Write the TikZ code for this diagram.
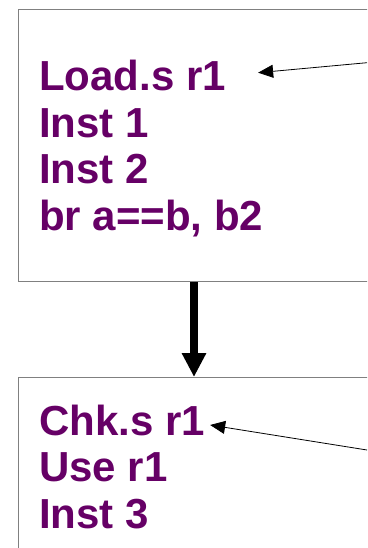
\documentclass[tikz,border=0pt]{standalone}
\usepackage{fontspec}
\setmainfont{Liberation Sans}
\usetikzlibrary{arrows.meta}
\definecolor{codepurple}{HTML}{660066}
\definecolor{boxgray}{HTML}{808080}
\begin{document}
\begin{tikzpicture}[x=1pt,y=-1pt]
    \tikzset{
        block/.style={draw=boxgray, line width=1pt, anchor=north west, inner sep=0pt, minimum width=400pt},
        code/.style={text=codepurple, font=\fontsize{42}{47}\selectfont\bfseries, anchor=base west, inner sep=0pt},
        pointer/.style={-{Triangle[length=15pt,width=13pt]}, line width=0.8pt},
        flow/.style={-{Triangle[length=24pt,width=23pt]}, line width=8pt}}
    \useasboundingbox (0,0) rectangle (367,548);
    \clip (0,0) rectangle (367,548);
    \node[block, minimum height=272pt] (top) at (18,9) {};
    \node[block, minimum height=250pt] (bot) at (18,377) {};
    \foreach \txt [count=\i] in {Load.s r1, Inst 1, Inst 2, {br a==b, b2}}
        \node[code] (ld\i) at (39,{90.7+46.5*(\i-1)}) {\txt};
    \foreach \txt [count=\i] in {Chk.s r1, Use r1, Inst 3}
        \node[code] (ck\i) at (39,{435+46.5*(\i-1)}) {\txt};
    % control flow between the blocks
    \coordinate (mid) at (194,0);
    \draw[flow] (top.south -| mid) -- (bot.north -| mid);
    % pointers coming in from the right
    \coordinate (ldsrc) at (367,62.7);
    \coordinate (cksrc) at (367,450);
    \draw[pointer] (ldsrc) -- ([xshift=32pt,yshift=3pt]ld1.east);
    \draw[pointer] (cksrc) -- ([xshift=5pt,yshift=-5pt]ck1.east);
\end{tikzpicture}
\end{document}
